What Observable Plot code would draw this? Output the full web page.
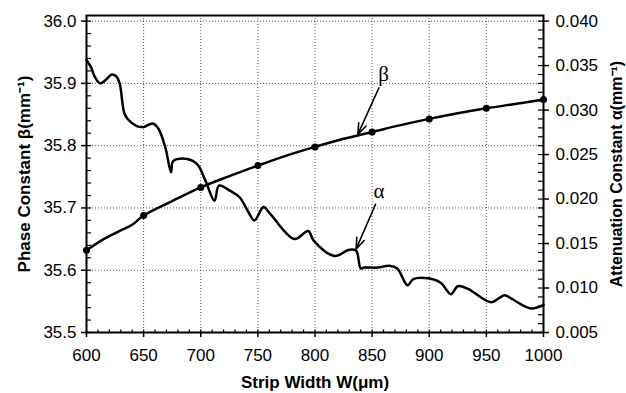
<!DOCTYPE html>
<html><head><meta charset="utf-8">
<script src="https://cdn.jsdelivr.net/npm/d3@7"></script>
<script src="https://cdn.jsdelivr.net/npm/@observablehq/plot@0.6"></script>
<style>body{margin:0;background:#fff}</style>
</head><body><div id="chart"></div>
<script>
// Phase constant beta (left axis)
const betaW = [600,615,630,640,650,675,700,725,750,775,800,825,850,875,900,925,950,975,1000];
const betaV = [35.632,35.650,35.664,35.673,35.688,35.711,35.733,35.751,35.768,35.784,35.798,35.811,35.822,35.833,35.843,35.852,35.860,35.867,35.874];
// Attenuation constant alpha (right axis)
const alphaW = [600,604,607,612,617,622,626,629,633,636,644,650,658,663,669,674,676,688,697,704,712,716,726,734,741,747,755,761,782,794,799,817,830,836,840,843,855,865,872,881,886,899,910,919,925,934,954,966,972,989,1000];
const alphaV = [0.0356,0.0348,0.0338,0.0330,0.0334,0.0340,0.0338,0.0330,0.0297,0.0290,0.0282,0.0281,0.0285,0.0279,0.0258,0.0230,0.0243,0.0245,0.0239,0.0221,0.0198,0.0215,0.0209,0.0202,0.0187,0.0176,0.0191,0.0183,0.0155,0.0164,0.0153,0.0136,0.0143,0.0142,0.0122,0.0123,0.0123,0.0125,0.0122,0.0103,0.0110,0.0111,0.0106,0.0093,0.0102,0.0099,0.0084,0.0092,0.0088,0.0077,0.0081];
// Tick labels
const xTicks = [600,650,700,750,800,850,900,950,1000];
const betaTicks = [35.5,35.6,35.7,35.8,35.9,36.0];
const alphaTicks = [0.005,0.010,0.015,0.020,0.025,0.030,0.035,0.040];
// Annotation arrows (data coordinates: W, beta-scale)
const arrowStartW = [856, 853];
const arrowStartB = [35.893, 35.706];
const arrowEndW = [837.5, 836];
const arrowEndB = [35.818, 35.634];
const symbolLabels = ["β", "α"];
const symbolW = [860, 856];
const symbolB = [35.914, 35.727];

const toB = a => 35.5 + (a - 0.005) * (0.5 / 0.035);
const fromB = b => 0.005 + (b - 35.5) * (0.035 / 0.5);

const beta = betaW.map((w, i) => ({w, v: betaV[i]}));
const alpha = alphaW.map((w, i) => ({w, v: toB(alphaV[i])}));
const arrows = arrowStartW.map((w, i) => ({x1: w, y1: arrowStartB[i], x2: arrowEndW[i], y2: arrowEndB[i]}));
const syms = symbolLabels.map((s, i) => ({s, w: symbolW[i], b: symbolB[i]}));

const pxX = 457 / 400, pxY = 623 / 0.5;
const minorX = d3.range(600, 1001, 10);
const minorB = d3.range(0, 26).map(i => 35.5 + i * 0.02);
const minorA = d3.range(0, 36).map(i => toB(0.005 + i * 0.001));

const chart = Plot.plot({
  width: 626, height: 393,
  marginLeft: 86, marginRight: 83, marginTop: 15, marginBottom: 61,
  style: {fontFamily: "'Liberation Sans', Arial, sans-serif", fontSize: "17px", color: "#000", background: "#fff"},
  x: {domain: [600, 1000]},
  y: {domain: [35.5, 36.009]},
  marks: [
    Plot.ruleX(xTicks.slice(1, -1), {stroke: "#555", strokeDasharray: "1,2", strokeWidth: 1}),
    Plot.ruleY(betaTicks.slice(1), {stroke: "#555", strokeDasharray: "1,2", strokeWidth: 1}),
    // inward minor ticks
    Plot.ruleX(minorX, {x: d => d, y1: 35.5, y2: 35.5 + 5 / pxY, stroke: "#000", strokeWidth: 1.2}),
    Plot.ruleY(minorB, {y: d => d, x1: 600, x2: 600 + 5 / pxX, stroke: "#000", strokeWidth: 1.2}),
    Plot.ruleY(minorA, {y: d => d, x1: 1000 - 5 / pxX, x2: 1000, stroke: "#000", strokeWidth: 1.2}),
    Plot.axisX({ticks: xTicks, tickSize: 5, tickPadding: 11, tickFormat: d => String(d), label: null, strokeWidth: 1.5}),
    Plot.axisY({ticks: betaTicks, tickSize: 5, tickPadding: 5, tickFormat: d => d.toFixed(1), label: null, strokeWidth: 1.5}),
    Plot.axisY({anchor: "right", ticks: alphaTicks.map(toB), tickSize: 5, tickPadding: 7, tickFormat: d => fromB(d).toFixed(3), label: null, strokeWidth: 1.5}),
    Plot.frame({stroke: "#000", strokeWidth: 2}),
    Plot.line(alpha, {x: "w", y: "v", curve: "catmull-rom", stroke: "#000", strokeWidth: 2.5}),
    Plot.line(beta, {x: "w", y: "v", curve: "catmull-rom", stroke: "#000", strokeWidth: 2.5}),
    Plot.dot(beta.filter(d => d.w % 50 === 0), {x: "w", y: "v", r: 3.5, fill: "#000"}),
    Plot.arrow(arrows, {x1: "x1", y1: "y1", x2: "x2", y2: "y2", stroke: "#000", strokeWidth: 1.6, headLength: 11, headAngle: 40}),
    Plot.text(syms, {x: "w", y: "b", text: "s", fontFamily: "'Liberation Serif', serif", fontSize: 21}),
    Plot.text(["Phase Constant β(mm⁻¹)"], {frameAnchor: "left", textAnchor: "middle", lineAnchor: "middle", dx: -62, rotate: -90, fontWeight: "bold", fontSize: 17}),
    Plot.text(["Attenuation Constant α(mm⁻¹)"], {frameAnchor: "right", textAnchor: "middle", lineAnchor: "middle", dx: 73, rotate: -90, fontWeight: "bold", fontSize: 16}),
    Plot.text(["Strip Width W(μm)"], {frameAnchor: "bottom", textAnchor: "middle", lineAnchor: "middle", dy: 50, fontWeight: "bold", fontSize: 17})
  ]
});
document.getElementById("chart").appendChild(chart);
</script>
</body></html>
